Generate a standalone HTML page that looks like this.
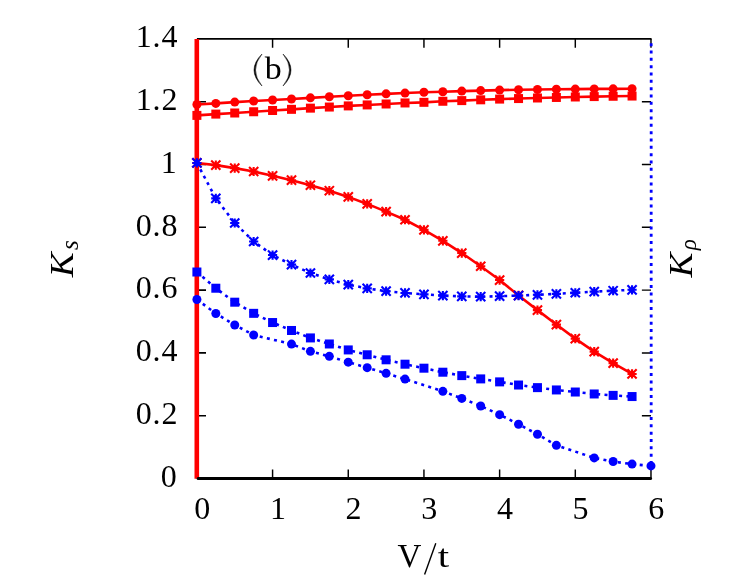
<!DOCTYPE html>
<html><head><meta charset="utf-8"><title>chart</title>
<style>html,body{margin:0;padding:0;background:#fff;}body{width:748px;height:582px;overflow:hidden;font-family:"Liberation Serif",serif;}svg{display:block;will-change:transform}</style>
</head><body>
<svg width="748" height="582" viewBox="0 0 748 582">
<rect width="748" height="582" fill="#fff"/>
<g stroke="#000" fill="none">
<path d="M196.90,38.90H651.58" stroke-width="1.8"/>
<path d="M272.58,478.50v-9.1M272.58,38.90v8.8M348.26,478.50v-9.1M348.26,38.90v8.8M423.94,478.50v-9.1M423.94,38.90v8.8M499.62,478.50v-9.1M499.62,38.90v8.8M575.30,478.50v-9.1M575.30,38.90v8.8M650.98,478.50v-9.1M650.98,38.90v8.8M650.98,415.70h-9.1M650.98,352.90h-9.1M650.98,290.10h-9.1M650.98,227.30h-9.1M650.98,164.50h-9.1M650.98,101.70h-9.1" stroke-width="1.45"/>
<path d="M196.90,415.70h9.1M196.90,352.90h9.1M196.90,290.10h9.1M196.90,227.30h9.1M196.90,164.50h9.1M196.90,101.70h9.1" stroke-width="1.6"/>
</g>
<path d="M196.80,39.10V478.80" stroke="#ff0000" stroke-width="4.6" fill="none"/>
<path d="M198.10,478.50H650.58" stroke="#000" stroke-width="3" stroke-linecap="round" fill="none"/>
<path d="M651.18,43.2V465.94" stroke="#0000ff" stroke-width="2.8" stroke-dasharray="3 4.33" fill="none"/>
<polyline points="196.90,104.53 215.82,103.40 234.74,102.11 253.66,101.01 272.58,100.00 291.50,99.03 310.42,97.87 329.34,96.74 348.26,95.77 367.18,94.79 386.10,93.85 405.02,93.06 423.94,92.22 442.86,91.75 461.78,91.12 480.70,90.62 499.62,90.08 518.54,89.77 537.46,89.52 556.38,89.30 575.30,89.08 594.22,88.92 613.14,88.83 632.06,88.76" fill="none" stroke="#ff0000" stroke-width="2.6"/>
<circle cx="196.90" cy="104.53" r="4.5" fill="#ff0000"/>
<circle cx="215.82" cy="103.40" r="4.5" fill="#ff0000"/>
<circle cx="234.74" cy="102.11" r="4.5" fill="#ff0000"/>
<circle cx="253.66" cy="101.01" r="4.5" fill="#ff0000"/>
<circle cx="272.58" cy="100.00" r="4.5" fill="#ff0000"/>
<circle cx="291.50" cy="99.03" r="4.5" fill="#ff0000"/>
<circle cx="310.42" cy="97.87" r="4.5" fill="#ff0000"/>
<circle cx="329.34" cy="96.74" r="4.5" fill="#ff0000"/>
<circle cx="348.26" cy="95.77" r="4.5" fill="#ff0000"/>
<circle cx="367.18" cy="94.79" r="4.5" fill="#ff0000"/>
<circle cx="386.10" cy="93.85" r="4.5" fill="#ff0000"/>
<circle cx="405.02" cy="93.06" r="4.5" fill="#ff0000"/>
<circle cx="423.94" cy="92.22" r="4.5" fill="#ff0000"/>
<circle cx="442.86" cy="91.75" r="4.5" fill="#ff0000"/>
<circle cx="461.78" cy="91.12" r="4.5" fill="#ff0000"/>
<circle cx="480.70" cy="90.62" r="4.5" fill="#ff0000"/>
<circle cx="499.62" cy="90.08" r="4.5" fill="#ff0000"/>
<circle cx="518.54" cy="89.77" r="4.5" fill="#ff0000"/>
<circle cx="537.46" cy="89.52" r="4.5" fill="#ff0000"/>
<circle cx="556.38" cy="89.30" r="4.5" fill="#ff0000"/>
<circle cx="575.30" cy="89.08" r="4.5" fill="#ff0000"/>
<circle cx="594.22" cy="88.92" r="4.5" fill="#ff0000"/>
<circle cx="613.14" cy="88.83" r="4.5" fill="#ff0000"/>
<circle cx="632.06" cy="88.76" r="4.5" fill="#ff0000"/>
<polyline points="196.90,115.39 215.82,114.10 234.74,113.00 253.66,111.75 272.58,110.49 291.50,109.33 310.42,108.14 329.34,107.04 348.26,105.91 367.18,104.93 386.10,103.99 405.02,102.96 423.94,102.33 442.86,101.26 461.78,100.60 480.70,99.82 499.62,99.09 518.54,98.56 537.46,97.99 556.38,97.46 575.30,96.99 594.22,96.58 613.14,96.27 632.06,96.05" fill="none" stroke="#ff0000" stroke-width="2.6"/>
<rect x="192.40" y="110.89" width="9.0" height="9.0" fill="#ff0000"/>
<rect x="211.32" y="109.60" width="9.0" height="9.0" fill="#ff0000"/>
<rect x="230.24" y="108.50" width="9.0" height="9.0" fill="#ff0000"/>
<rect x="249.16" y="107.25" width="9.0" height="9.0" fill="#ff0000"/>
<rect x="268.08" y="105.99" width="9.0" height="9.0" fill="#ff0000"/>
<rect x="287.00" y="104.83" width="9.0" height="9.0" fill="#ff0000"/>
<rect x="305.92" y="103.64" width="9.0" height="9.0" fill="#ff0000"/>
<rect x="324.84" y="102.54" width="9.0" height="9.0" fill="#ff0000"/>
<rect x="343.76" y="101.41" width="9.0" height="9.0" fill="#ff0000"/>
<rect x="362.68" y="100.43" width="9.0" height="9.0" fill="#ff0000"/>
<rect x="381.60" y="99.49" width="9.0" height="9.0" fill="#ff0000"/>
<rect x="400.52" y="98.46" width="9.0" height="9.0" fill="#ff0000"/>
<rect x="419.44" y="97.83" width="9.0" height="9.0" fill="#ff0000"/>
<rect x="438.36" y="96.76" width="9.0" height="9.0" fill="#ff0000"/>
<rect x="457.28" y="96.10" width="9.0" height="9.0" fill="#ff0000"/>
<rect x="476.20" y="95.32" width="9.0" height="9.0" fill="#ff0000"/>
<rect x="495.12" y="94.59" width="9.0" height="9.0" fill="#ff0000"/>
<rect x="514.04" y="94.06" width="9.0" height="9.0" fill="#ff0000"/>
<rect x="532.96" y="93.49" width="9.0" height="9.0" fill="#ff0000"/>
<rect x="551.88" y="92.96" width="9.0" height="9.0" fill="#ff0000"/>
<rect x="570.80" y="92.49" width="9.0" height="9.0" fill="#ff0000"/>
<rect x="589.72" y="92.08" width="9.0" height="9.0" fill="#ff0000"/>
<rect x="608.64" y="91.77" width="9.0" height="9.0" fill="#ff0000"/>
<rect x="627.56" y="91.55" width="9.0" height="9.0" fill="#ff0000"/>
<polyline points="196.90,162.93 215.82,165.13 234.74,168.11 253.66,171.50 272.58,175.80 291.50,180.20 310.42,185.22 329.34,190.72 348.26,196.90 367.18,203.91 386.10,211.60 405.02,219.76 423.94,229.91 442.86,240.80 461.78,253.05 480.70,266.24 499.62,280.05 518.54,295.44 537.46,310.13 556.38,324.58 575.30,338.61 594.22,351.64 613.14,363.11 632.06,373.94" fill="none" stroke="#ff0000" stroke-width="2.6"/>
<path d="M192.30,162.93H201.50M196.90,158.33V167.53M192.30,158.33L201.50,167.53M192.30,167.53L201.50,158.33M211.22,165.13H220.42M215.82,160.53V169.73M211.22,160.53L220.42,169.73M211.22,169.73L220.42,160.53M230.14,168.11H239.34M234.74,163.51V172.71M230.14,163.51L239.34,172.71M230.14,172.71L239.34,163.51M249.06,171.50H258.26M253.66,166.90V176.10M249.06,166.90L258.26,176.10M249.06,176.10L258.26,166.90M267.98,175.80H277.18M272.58,171.20V180.40M267.98,171.20L277.18,180.40M267.98,180.40L277.18,171.20M286.90,180.20H296.10M291.50,175.60V184.80M286.90,175.60L296.10,184.80M286.90,184.80L296.10,175.60M305.82,185.22H315.02M310.42,180.62V189.82M305.82,180.62L315.02,189.82M305.82,189.82L315.02,180.62M324.74,190.72H333.94M329.34,186.12V195.32M324.74,186.12L333.94,195.32M324.74,195.32L333.94,186.12M343.66,196.90H352.86M348.26,192.30V201.50M343.66,192.30L352.86,201.50M343.66,201.50L352.86,192.30M362.58,203.91H371.78M367.18,199.31V208.51M362.58,199.31L371.78,208.51M362.58,208.51L371.78,199.31M381.50,211.60H390.70M386.10,207.00V216.20M381.50,207.00L390.70,216.20M381.50,216.20L390.70,207.00M400.42,219.76H409.62M405.02,215.16V224.36M400.42,215.16L409.62,224.36M400.42,224.36L409.62,215.16M419.34,229.91H428.54M423.94,225.31V234.51M419.34,225.31L428.54,234.51M419.34,234.51L428.54,225.31M438.26,240.80H447.46M442.86,236.20V245.40M438.26,236.20L447.46,245.40M438.26,245.40L447.46,236.20M457.18,253.05H466.38M461.78,248.45V257.65M457.18,248.45L466.38,257.65M457.18,257.65L466.38,248.45M476.10,266.24H485.30M480.70,261.64V270.84M476.10,261.64L485.30,270.84M476.10,270.84L485.30,261.64M495.02,280.05H504.22M499.62,275.45V284.65M495.02,275.45L504.22,284.65M495.02,284.65L504.22,275.45M513.94,295.44H523.14M518.54,290.84V300.04M513.94,290.84L523.14,300.04M513.94,300.04L523.14,290.84M532.86,310.13H542.06M537.46,305.53V314.73M532.86,305.53L542.06,314.73M532.86,314.73L542.06,305.53M551.78,324.58H560.98M556.38,319.98V329.18M551.78,319.98L560.98,329.18M551.78,329.18L560.98,319.98M570.70,338.61H579.90M575.30,334.01V343.21M570.70,334.01L579.90,343.21M570.70,343.21L579.90,334.01M589.62,351.64H598.82M594.22,347.04V356.24M589.62,347.04L598.82,356.24M589.62,356.24L598.82,347.04M608.54,363.11H617.74M613.14,358.50V367.71M608.54,358.50L617.74,367.71M608.54,367.71L617.74,358.50M627.46,373.94H636.66M632.06,369.34V378.54M627.46,369.34L636.66,378.54M627.46,378.54L636.66,369.34" fill="none" stroke="#ff0000" stroke-width="2.1"/>
<polyline points="196.90,162.93 215.82,198.41 234.74,223.00 253.66,241.49 272.58,255.06 291.50,264.67 310.42,272.99 329.34,279.42 348.26,284.61 367.18,288.37 386.10,291.20 405.02,292.93 423.94,294.34 442.86,295.60 461.78,296.38 480.70,296.69 499.62,296.19 518.54,295.60 537.46,294.81 556.38,293.87 575.30,292.74 594.22,291.67 613.14,290.73 632.06,289.79" fill="none" stroke="#0000ff" stroke-width="2.6" stroke-dasharray="3 4.33"/>
<path d="M192.30,162.93H201.50M196.90,158.33V167.53M192.30,158.33L201.50,167.53M192.30,167.53L201.50,158.33M211.22,198.41H220.42M215.82,193.81V203.01M211.22,193.81L220.42,203.01M211.22,203.01L220.42,193.81M230.14,223.00H239.34M234.74,218.40V227.60M230.14,218.40L239.34,227.60M230.14,227.60L239.34,218.40M249.06,241.49H258.26M253.66,236.89V246.09M249.06,236.89L258.26,246.09M249.06,246.09L258.26,236.89M267.98,255.06H277.18M272.58,250.46V259.66M267.98,250.46L277.18,259.66M267.98,259.66L277.18,250.46M286.90,264.67H296.10M291.50,260.07V269.27M286.90,260.07L296.10,269.27M286.90,269.27L296.10,260.07M305.82,272.99H315.02M310.42,268.39V277.59M305.82,268.39L315.02,277.59M305.82,277.59L315.02,268.39M324.74,279.42H333.94M329.34,274.82V284.02M324.74,274.82L333.94,284.02M324.74,284.02L333.94,274.82M343.66,284.61H352.86M348.26,280.00V289.21M343.66,280.00L352.86,289.21M343.66,289.21L352.86,280.00M362.58,288.37H371.78M367.18,283.77V292.97M362.58,283.77L371.78,292.97M362.58,292.97L371.78,283.77M381.50,291.20H390.70M386.10,286.60V295.80M381.50,286.60L390.70,295.80M381.50,295.80L390.70,286.60M400.42,292.93H409.62M405.02,288.33V297.53M400.42,288.33L409.62,297.53M400.42,297.53L409.62,288.33M419.34,294.34H428.54M423.94,289.74V298.94M419.34,289.74L428.54,298.94M419.34,298.94L428.54,289.74M438.26,295.60H447.46M442.86,291.00V300.20M438.26,291.00L447.46,300.20M438.26,300.20L447.46,291.00M457.18,296.38H466.38M461.78,291.78V300.98M457.18,291.78L466.38,300.98M457.18,300.98L466.38,291.78M476.10,296.69H485.30M480.70,292.09V301.29M476.10,292.09L485.30,301.29M476.10,301.29L485.30,292.09M495.02,296.19H504.22M499.62,291.59V300.79M495.02,291.59L504.22,300.79M495.02,300.79L504.22,291.59M513.94,295.60H523.14M518.54,291.00V300.20M513.94,291.00L523.14,300.20M513.94,300.20L523.14,291.00M532.86,294.81H542.06M537.46,290.21V299.41M532.86,290.21L542.06,299.41M532.86,299.41L542.06,290.21M551.78,293.87H560.98M556.38,289.27V298.47M551.78,289.27L560.98,298.47M551.78,298.47L560.98,289.27M570.70,292.74H579.90M575.30,288.14V297.34M570.70,288.14L579.90,297.34M570.70,297.34L579.90,288.14M589.62,291.67H598.82M594.22,287.07V296.27M589.62,287.07L598.82,296.27M589.62,296.27L598.82,287.07M608.54,290.73H617.74M613.14,286.13V295.33M608.54,286.13L617.74,295.33M608.54,295.33L617.74,286.13M627.46,289.79H636.66M632.06,285.19V294.39M627.46,285.19L636.66,294.39M627.46,294.39L636.66,285.19" fill="none" stroke="#0000ff" stroke-width="2.1"/>
<polyline points="196.90,272.01 215.82,288.22 234.74,302.19 253.66,313.34 272.58,322.54 291.50,330.48 310.42,337.92 329.34,343.98 348.26,349.92 367.18,354.78 386.10,359.81 405.02,364.20 423.94,368.19 442.86,372.21 461.78,375.63 480.70,378.90 499.62,381.88 518.54,385.02 537.46,387.63 556.38,389.95 575.30,392.02 594.22,393.97 613.14,395.38 632.06,396.55" fill="none" stroke="#0000ff" stroke-width="2.6" stroke-dasharray="3 4.33"/>
<rect x="192.40" y="267.51" width="9.0" height="9.0" fill="#0000ff"/>
<rect x="211.32" y="283.72" width="9.0" height="9.0" fill="#0000ff"/>
<rect x="230.24" y="297.69" width="9.0" height="9.0" fill="#0000ff"/>
<rect x="249.16" y="308.84" width="9.0" height="9.0" fill="#0000ff"/>
<rect x="268.08" y="318.04" width="9.0" height="9.0" fill="#0000ff"/>
<rect x="287.00" y="325.98" width="9.0" height="9.0" fill="#0000ff"/>
<rect x="305.92" y="333.42" width="9.0" height="9.0" fill="#0000ff"/>
<rect x="324.84" y="339.48" width="9.0" height="9.0" fill="#0000ff"/>
<rect x="343.76" y="345.42" width="9.0" height="9.0" fill="#0000ff"/>
<rect x="362.68" y="350.28" width="9.0" height="9.0" fill="#0000ff"/>
<rect x="381.60" y="355.31" width="9.0" height="9.0" fill="#0000ff"/>
<rect x="400.52" y="359.70" width="9.0" height="9.0" fill="#0000ff"/>
<rect x="419.44" y="363.69" width="9.0" height="9.0" fill="#0000ff"/>
<rect x="438.36" y="367.71" width="9.0" height="9.0" fill="#0000ff"/>
<rect x="457.28" y="371.13" width="9.0" height="9.0" fill="#0000ff"/>
<rect x="476.20" y="374.40" width="9.0" height="9.0" fill="#0000ff"/>
<rect x="495.12" y="377.38" width="9.0" height="9.0" fill="#0000ff"/>
<rect x="514.04" y="380.52" width="9.0" height="9.0" fill="#0000ff"/>
<rect x="532.96" y="383.13" width="9.0" height="9.0" fill="#0000ff"/>
<rect x="551.88" y="385.45" width="9.0" height="9.0" fill="#0000ff"/>
<rect x="570.80" y="387.52" width="9.0" height="9.0" fill="#0000ff"/>
<rect x="589.72" y="389.47" width="9.0" height="9.0" fill="#0000ff"/>
<rect x="608.64" y="390.88" width="9.0" height="9.0" fill="#0000ff"/>
<rect x="627.56" y="392.05" width="9.0" height="9.0" fill="#0000ff"/>
<polyline points="196.90,299.52 215.82,313.46 234.74,324.95 253.66,335.00 291.50,344.11 310.42,351.33 329.34,356.35 348.26,362.19 367.18,367.66 386.10,373.31 405.02,379.09 442.86,391.33 461.78,398.43 480.70,405.97 499.62,414.66 518.54,424.24 537.46,434.23 556.38,445.34 594.22,457.90 613.14,461.54 632.06,464.12 650.98,465.94" fill="none" stroke="#0000ff" stroke-width="2.6" stroke-dasharray="3 4.33"/>
<circle cx="196.90" cy="299.52" r="4.5" fill="#0000ff"/>
<circle cx="215.82" cy="313.46" r="4.5" fill="#0000ff"/>
<circle cx="234.74" cy="324.95" r="4.5" fill="#0000ff"/>
<circle cx="253.66" cy="335.00" r="4.5" fill="#0000ff"/>
<circle cx="291.50" cy="344.11" r="4.5" fill="#0000ff"/>
<circle cx="310.42" cy="351.33" r="4.5" fill="#0000ff"/>
<circle cx="329.34" cy="356.35" r="4.5" fill="#0000ff"/>
<circle cx="348.26" cy="362.19" r="4.5" fill="#0000ff"/>
<circle cx="367.18" cy="367.66" r="4.5" fill="#0000ff"/>
<circle cx="386.10" cy="373.31" r="4.5" fill="#0000ff"/>
<circle cx="405.02" cy="379.09" r="4.5" fill="#0000ff"/>
<circle cx="442.86" cy="391.33" r="4.5" fill="#0000ff"/>
<circle cx="461.78" cy="398.43" r="4.5" fill="#0000ff"/>
<circle cx="480.70" cy="405.97" r="4.5" fill="#0000ff"/>
<circle cx="499.62" cy="414.66" r="4.5" fill="#0000ff"/>
<circle cx="518.54" cy="424.24" r="4.5" fill="#0000ff"/>
<circle cx="537.46" cy="434.23" r="4.5" fill="#0000ff"/>
<circle cx="556.38" cy="445.34" r="4.5" fill="#0000ff"/>
<circle cx="594.22" cy="457.90" r="4.5" fill="#0000ff"/>
<circle cx="613.14" cy="461.54" r="4.5" fill="#0000ff"/>
<circle cx="632.06" cy="464.12" r="4.5" fill="#0000ff"/>
<circle cx="650.98" cy="465.94" r="4.5" fill="#0000ff"/>
<g font-family="'Liberation Serif', serif" font-size="32" fill="#000"><text x="176.8" y="486.70" text-anchor="end" letter-spacing="0">0</text><text x="178.2" y="423.90" text-anchor="end" letter-spacing="0.8">0.2</text><text x="178.2" y="361.10" text-anchor="end" letter-spacing="0.8">0.4</text><text x="178.2" y="298.30" text-anchor="end" letter-spacing="0.8">0.6</text><text x="178.2" y="235.50" text-anchor="end" letter-spacing="0.8">0.8</text><text x="176.8" y="172.70" text-anchor="end" letter-spacing="0">1</text><text x="178.2" y="109.90" text-anchor="end" letter-spacing="0.8">1.2</text><text x="178.2" y="47.10" text-anchor="end" letter-spacing="0.8">1.4</text><text x="202.20" y="519.2" text-anchor="middle">0</text><text x="277.88" y="519.2" text-anchor="middle">1</text><text x="353.56" y="519.2" text-anchor="middle">2</text><text x="429.24" y="519.2" text-anchor="middle">3</text><text x="504.92" y="519.2" text-anchor="middle">4</text><text x="580.60" y="519.2" text-anchor="middle">5</text><text x="656.28" y="519.2" text-anchor="middle">6</text></g>
<g font-family="'Liberation Serif', serif" fill="#000"><text x="397.6" y="567.4" font-size="33">V</text><text x="0" y="0" font-size="31.5" transform="translate(437.8,567.4) scale(1.3,1)">t</text><path d="M424.6,574.6L435.8,543.2" stroke="#000" stroke-width="1.4" fill="none"/></g>
<g font-family="'Liberation Serif', serif" fill="#000"><text x="0" y="0" font-size="32" transform="translate(264.7,78.8) scale(1.06,1)">b</text><path d="M262,54 Q246,70 262,86 Q249.0,70 262,54Z" stroke="#000" stroke-width="0.5"/><path d="M283,54 Q299,70 283,86 Q296.0,70 283,54Z" stroke="#000" stroke-width="0.5"/></g>
<g font-family="'Liberation Serif', serif" font-style="italic" fill="#000"><g transform="translate(73,277.3) rotate(-90)"><text x="0" y="0" font-size="33" transform="scale(1.13,1)">K</text><text x="27.3" y="4.8" font-size="25">s</text></g><g transform="translate(692,277.5) rotate(-90)"><text x="0" y="0" font-size="33" transform="scale(1.13,1)">K</text><text x="27.2" y="3.5" font-size="23">ρ</text></g></g>
</svg>
</body></html>
